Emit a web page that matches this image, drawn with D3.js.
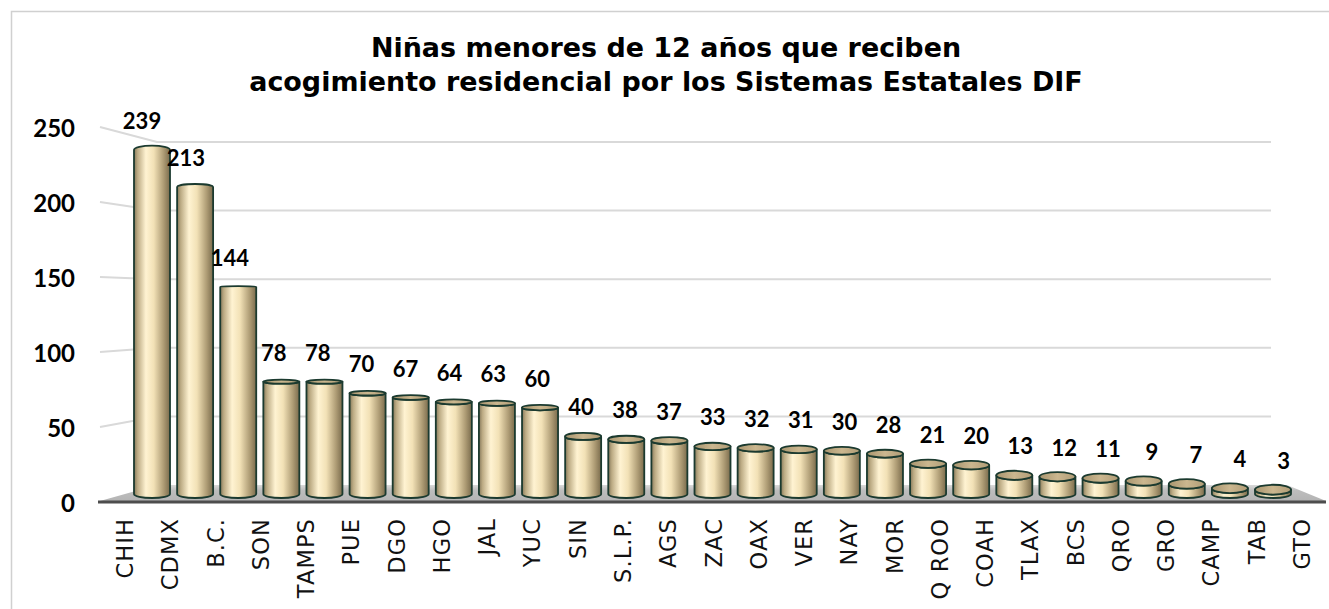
<!DOCTYPE html>
<html>
<head>
<meta charset="utf-8">
<script src="https://cdn.jsdelivr.net/npm/d3@7"></script>
<style>
  html, body { margin: 0; padding: 0; background: #ffffff; }
  svg { display: block; }
</style>
</head>
<body>
<svg id="chart" width="1329" height="609"></svg>
<script>
const titleLines = ["Niñas menores de 12 años que reciben", "acogimiento residencial por los Sistemas Estatales DIF"];
const categories = ["CHIH","CDMX","B.C.","SON","TAMPS","PUE","DGO","HGO","JAL","YUC","SIN","S.L.P.","AGS","ZAC","OAX","VER","NAY","MOR","Q ROO","COAH","TLAX","BCS","QRO","GRO","CAMP","TAB","GTO"];
const values = [239,213,144,78,78,70,67,64,63,60,40,38,37,33,32,31,30,28,21,20,13,12,11,9,7,4,3];
const yTicks = [0,50,100,150,200,250];

const svg = d3.select("#chart");
const defs = svg.append("defs");

// border
svg.append("rect").attr("x",11.5).attr("y",11.5).attr("width",1340).attr("height",640)
  .attr("fill","none").attr("stroke","#d0d0d0").attr("stroke-width",1.5);

// scales
const xFront = d3.scalePoint().domain(categories).range([125, 1302]);
const xBar = d3.scalePoint().domain(categories).range([152, 1273]);
const yBar = d3.scaleLinear().domain([0,250]).range([494, 134]);
const yFront = d3.scaleLinear().domain([0,250]).range([502, 127]);
const yBack = d3.scaleLinear().domain([0,250]).range([485, 142]);
const wallL = 157, wallR = 1271, frontL = 100, frontR = 1326;

// gradients
const bg = defs.append("linearGradient").attr("id","body").attr("x1","0").attr("x2","1").attr("y1","0").attr("y2","0");
[[0,"#85785a"],[0.1,"#bcab84"],[0.33,"#fff3d2"],[0.55,"#f2e1b6"],[0.82,"#ae9c75"],[1,"#7a6b4c"]]
  .forEach(s => bg.append("stop").attr("offset",s[0]).attr("stop-color",s[1]));
const cg = defs.append("linearGradient").attr("id","cap").attr("x1","0").attr("x2","1").attr("y1","0").attr("y2","0");
[[0,"#a8956f"],[0.5,"#cbb78f"],[1,"#b09c76"]]
  .forEach(s => cg.append("stop").attr("offset",s[0]).attr("stop-color",s[1]));
const fg = defs.append("linearGradient").attr("id","floor").attr("x1","0").attr("x2","0").attr("y1","0").attr("y2","1");
[[0,"#dadada"],[0.35,"#bdbdbd"],[1,"#b4b4b4"]]
  .forEach(s => fg.append("stop").attr("offset",s[0]).attr("stop-color",s[1]));

// back wall gridlines + side wall lines
const grid = svg.append("g");
yTicks.filter(t => t > 0).forEach(t => {
  grid.append("path")
    .attr("d", `M${frontL},${yFront(t)} L${wallL},${yBack(t)} L${wallR},${yBack(t)}`)
    .attr("fill","none").attr("stroke","#d9d9d9").attr("stroke-width",2);
});

// floor
svg.append("path")
  .attr("d", `M${wallL},${yBack(0)} L${wallR + 16},${yBack(0)} L${frontR},${yFront(0) - 1} L${frontL},${yFront(0) - 1} Z`)
  .attr("fill","url(#floor)");
svg.append("line").attr("x1",frontL - 2).attr("x2",frontR).attr("y1",yFront(0)).attr("y2",yFront(0))
  .attr("stroke","#4d4d4d").attr("stroke-width",3);

// y tick labels
svg.append("g").selectAll("text").data(yTicks).join("text")
  .attr("x", 75).attr("y", d => yFront(d))
  .attr("text-anchor","end").attr("dominant-baseline","central")
  .attr("font-family","Lato, 'Open Sans', sans-serif").attr("font-weight","bold")
  .attr("font-size", 24).attr("fill","#000")
  .text(d => d);

// bars (cylinders)
const eyeY = 308, k = 0.027, rx = 18;
const bars = svg.append("g");
categories.forEach((c, i) => {
  const cx = xBar(c), top = yBar(values[i]), bot = yBar(0);
  const ryT = (top - eyeY) * k;
  const ryB = (bot - eyeY) * k * 0.8;
  const a = Math.abs(ryT);
  const sweep = ryT >= 0 ? 1 : 0;
  const d = `M${cx - rx},${top} L${cx - rx},${bot} A${rx},${ryB} 0 0 0 ${cx + rx},${bot} L${cx + rx},${top} A${rx},${Math.max(a,0.01)} 0 0 ${sweep} ${cx - rx},${top} Z`;
  bars.append("path").attr("d", d).attr("fill","url(#body)")
    .attr("stroke","#1b3a2f").attr("stroke-width",1.8).attr("stroke-linejoin","round");
  if (ryT > 0.3) {
    bars.append("ellipse").attr("cx",cx).attr("cy",top).attr("rx",rx).attr("ry",ryT)
      .attr("fill","url(#cap)").attr("stroke","#1b3a2f").attr("stroke-width",1.8);
  }
});

// data labels
svg.append("g").selectAll("text").data(categories).join("text")
  .attr("x", c => xBar(c) + (xFront(c) - xBar(c)) * 0.37)
  .attr("y", (c, i) => yBar(values[i]) - 21)
  .attr("text-anchor","middle")
  .attr("font-family","Lato, 'Open Sans', sans-serif").attr("font-weight","bold")
  .attr("font-size", 22).attr("fill","#000")
  .text((c, i) => values[i]);

// category labels
svg.append("g").selectAll("text").data(categories).join("text")
  .attr("transform", c => `translate(${xFront(c)},518) rotate(-90)`)
  .attr("text-anchor","end").attr("dominant-baseline","central")
  .attr("font-family","'DejaVu Sans', sans-serif").attr("font-weight","normal")
  .attr("font-size", 22.5).attr("letter-spacing", 1.1).attr("fill","#111")
  .text(c => c);

// title
const titles = svg.append("g").selectAll("text").data(titleLines).join("text")
  .attr("x", 666).attr("y", (d, i) => 57 + i * 34)
  .attr("text-anchor","middle")
  .attr("font-family","'DejaVu Sans', sans-serif").attr("font-weight","bold")
  .attr("font-size", 25).attr("fill","#000")
  .text(d => d);
const w2 = titles.nodes()[1].getComputedTextLength();
titles.attr("font-size", 25 * 834 / w2);
</script>
</body>
</html>
